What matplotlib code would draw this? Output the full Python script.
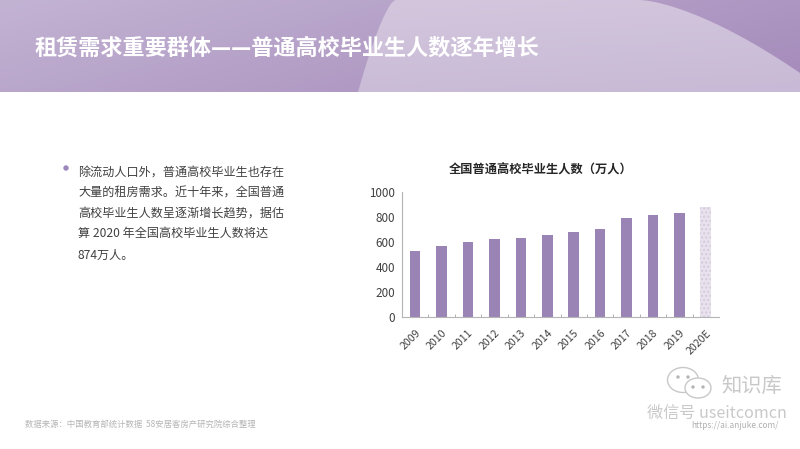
import numpy as np
import matplotlib.pyplot as plt
from matplotlib.patches import Polygon, Circle, Ellipse
from matplotlib.colors import LinearSegmentedColormap
from matplotlib.transforms import ScaledTranslation

plt.rcParams['font.family'] = ['Noto Sans CJK SC', 'DejaVu Sans']

years = ['2009', '2010', '2011', '2012', '2013', '2014', '2015', '2016',
         '2017', '2018', '2019', '2020E']
graduates = [525, 568, 600, 619, 632, 653, 675, 699, 789, 816, 827, 874]

title = '租赁需求重要群体——普通高校毕业生人数逐年增长'
chart_title = '全国普通高校毕业生人数（万人）'
body_lines = ['除流动人口外，普通高校毕业生也存在',
              '大量的租房需求。近十年来，全国普通',
              '高校毕业生人数呈逐渐增长趋势，据估',
              '算 2020 年全国高校毕业生人数将达',
              '874万人。']
source = '数据来源：中国教育部统计数据  58安居客房产研究院综合整理'

W, H = 800, 449
fig = plt.figure(figsize=(8, 4.49), dpi=100, facecolor='white')

# background layer in pixel coordinates
bg = fig.add_axes([0, 0, 1, 1])
bg.set_xlim(0, W)
bg.set_ylim(H, 0)
bg.axis('off')

xx, yy = np.meshgrid(np.linspace(0, 1, 200), np.linspace(0, 1, 40))
dark = LinearSegmentedColormap.from_list('dark', ['#c3b3d3', '#a48aba'])
light = LinearSegmentedColormap.from_list('light', ['#d5c8de', '#c8bad6'])

bg.imshow(xx * 0.7 + yy * 0.3, extent=(0, W, 92, 0), cmap=dark, aspect='auto', zorder=1)

# pale swoosh across the header
t = np.linspace(0, 1, 30)
left_x = 395 - 37 * t ** 0.7
left_y = 92 * t
right_x = 640 + 160 * t
right_y = 73 * t ** 1.5
verts = list(zip(right_x, right_y)) + [(800, 92)] + list(zip(left_x[::-1], left_y[::-1]))
swoosh = Polygon(verts, closed=True, facecolor='none', edgecolor='none', zorder=2)
bg.add_patch(swoosh)
im = bg.imshow(xx * 0.3 + yy * 0.7, extent=(0, W, 92, 0), cmap=light, aspect='auto', zorder=2)
im.set_clip_path(swoosh)
bg.set_xlim(0, W)
bg.set_ylim(H, 0)

bg.text(35, 48, title, color='white', fontsize=15.9, fontweight='bold', va='center', zorder=3)

# bullet text
bg.add_patch(Circle((66, 168), 2, color='#9d86bd', zorder=3))
body_y = [172, 193, 213, 233, 255]
for line, y in zip(body_lines, body_y):
    bg.text(78, y, line, color='#404040', fontsize=8.7, va='center')

bg.text(25, 424, source, color='#b5b5b5', fontsize=6, va='center')

# watermark
bg.add_patch(Ellipse((683, 380), 31, 25, facecolor='white', edgecolor='#c8c8c8', lw=1, zorder=3))
bg.add_patch(Ellipse((698, 388), 26, 20, facecolor='white', edgecolor='#c8c8c8', lw=1, zorder=4))
for ex, ey in [(678, 377), (688, 377), (693, 387), (703, 387)]:
    bg.add_patch(Circle((ex, ey), 1, color='#b5b5b5', zorder=5))
bg.text(752, 386, '知识库', color='#c8c8c8', fontsize=14.6, ha='center', va='center')
bg.text(717, 413, '微信号 useitcomcn', color='#c9c9c9', fontsize=11.6, ha='center', va='center')
bg.text(735, 426, 'https://ai.anjuke.com/', color='#b0b0b0', fontsize=6, ha='center', va='center')

# bar chart
x0, x1, y0, y1 = 402, 719, 316.7, 191.7
ax = fig.add_axes([x0 / W, 1 - y0 / H, (x1 - x0) / W, (y0 - y1) / H])
ax.patch.set_alpha(0)
pos = np.arange(len(years))
ax.bar(pos[:-1], graduates[:-1], width=0.4, color='#9a84b6')
ax.bar(pos[-1], graduates[-1], width=0.42, color='#e9e2ee', edgecolor='#d3cadb',
       hatch='....', linewidth=0)
ax.set_xlim(-0.5, 11.5)
ax.set_ylim(0, 1000)
ax.set_yticks([0, 200, 400, 600, 800, 1000])
ax.set_xticks(pos)
ax.set_xticklabels(years, rotation=45, ha='right', rotation_mode='anchor', fontsize=7.6, color='#404040')
shift = ScaledTranslation(-3 / 100, 0, fig.dpi_scale_trans)
for lab in ax.get_xticklabels():
    lab.set_transform(lab.get_transform() + shift)
ax.tick_params(axis='y', length=0, labelsize=8.4, labelcolor='#404040', pad=5)
ax.tick_params(axis='x', length=0, pad=8)
ax.set_xticks(pos[:-1] + 0.5, minor=True)
ax.tick_params(axis='x', which='minor', direction='in', length=2, color='#b0b0b0', width=0.7)
for side in ['top', 'right']:
    ax.spines[side].set_visible(False)
for side in ['left', 'bottom']:
    ax.spines[side].set_color('#b5b5b5')
    ax.spines[side].set_linewidth(0.8)

fig.text(541 / W, 1 - 170 / H, chart_title, fontsize=8.8, fontweight='bold', color='#262626',
         ha='center', va='center')

plt.savefig('out.png', dpi=100)
